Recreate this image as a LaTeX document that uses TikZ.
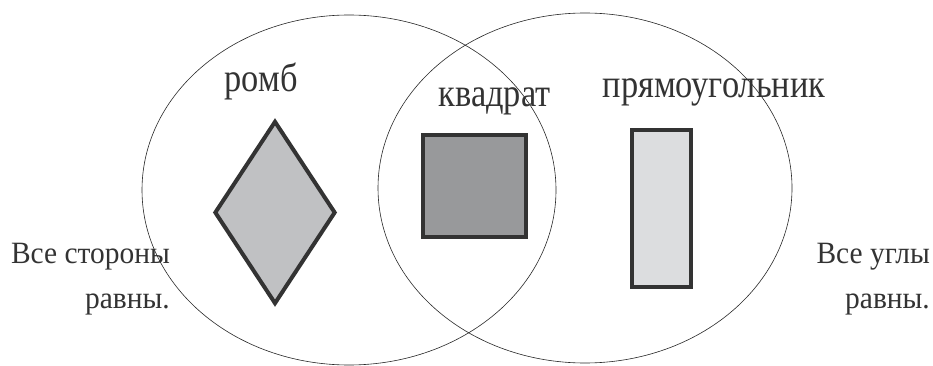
\documentclass[tikz,border=0pt]{standalone}
\usepackage{fontspec}
\setmainfont{Liberation Serif}
\newfontfamily\narrowserif[FakeStretch=0.86]{Liberation Serif}
\newfontfamily\propserif[FakeStretch=0.95]{Liberation Serif}
\usepackage{tikz}
\usetikzlibrary{positioning, shapes.geometric}

\definecolor{edgegray}{RGB}{51,51,51}
\definecolor{rhombfill}{RGB}{192,193,195}
\definecolor{squarefill}{RGB}{152,153,155}
\definecolor{rectfill}{RGB}{220,221,223}

\begin{document}
\begin{tikzpicture}[
  x=1pt, y=-1pt,
  setring/.style={ellipse, draw=black!85, line width=0.6pt, inner sep=0pt,
    minimum width=414pt, minimum height=350pt},
  figshape/.style={draw=edgegray, line width=4pt, inner sep=0pt},
  figname/.style={font=\narrowserif\fontsize{40}{44}\selectfont, text=black!80, anchor=base, inner sep=0pt},
  prop/.style={font=\propserif\fontsize{31}{45}\selectfont, text=black!80, align=right,
    anchor=base east, inner sep=0pt},
]
  \useasboundingbox (0,0) rectangle (933,366);

  % Two sets
  \node[setring] (rhombi) at (349,190) {};
  \node[setring] (rects)  at (585,188) {};

  % Figures
  \node[figshape, diamond, fill=rhombfill, minimum width=121pt, minimum height=183pt]
    (rhomb) at (275,212.5) {};
  \node[figshape, rectangle, fill=squarefill, minimum width=103pt, minimum height=102pt]
    (square) at (474.5,186) {};
  \node[figshape, rectangle, fill=rectfill, minimum width=59pt, minimum height=157pt]
    (rect) at (661.5,208.5) {};

  % Names
  \node[figname] (rhomblabel)  at (261,92)  {ромб};
  \node[figname] (squarelabel) at (494.5,107) {квадрат};
  \node[figname] (rectlabel)   at (714,98)  {прямоугольник};

  % Properties (base = last line)
  \node[prop] (sides)  at (170,308) {Все стороны\\равны.};
  \node[prop] (angles) at (930,308) {Все углы\\равны.};
\end{tikzpicture}
\end{document}
